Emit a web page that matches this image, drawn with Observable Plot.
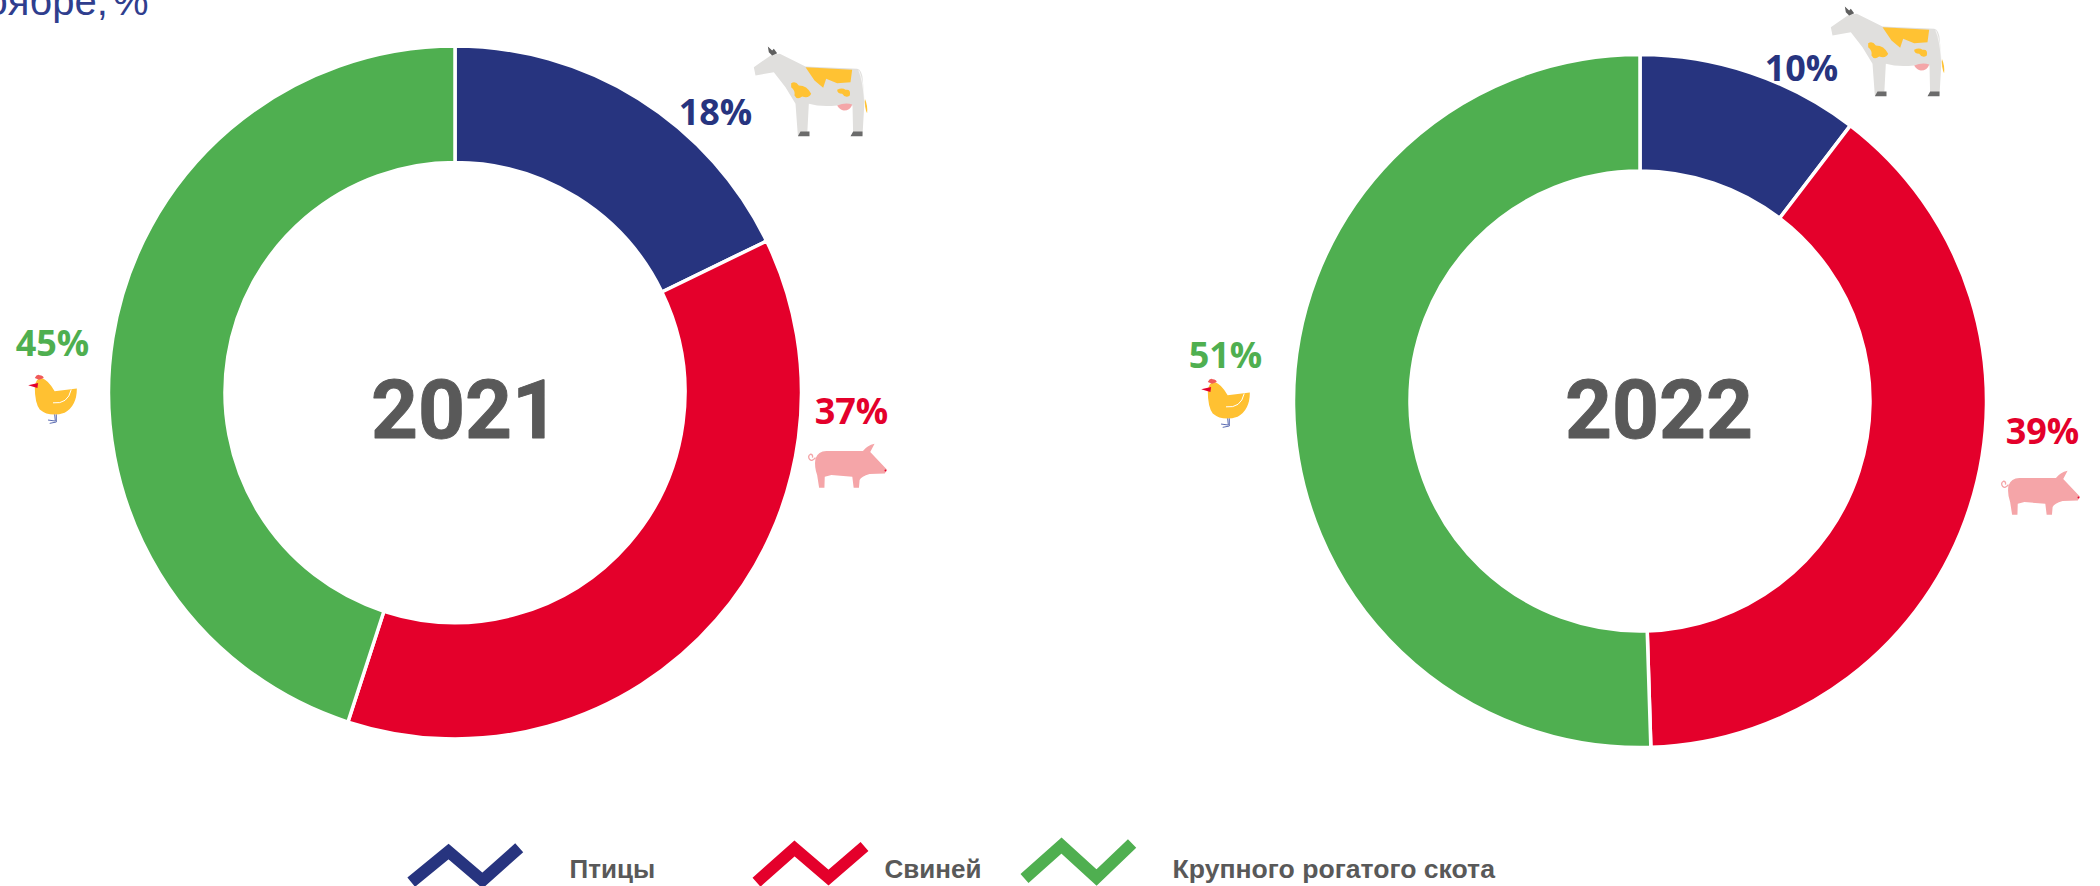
<!DOCTYPE html>
<html lang="ru">
<head>
<meta charset="utf-8">
<script src="https://cdn.jsdelivr.net/npm/d3@7"></script>
<script src="https://cdn.jsdelivr.net/npm/@observablehq/plot@0.6"></script>
<style>
html,body{margin:0;padding:0;background:#fff;overflow:hidden;width:2100px;height:886px}
svg{display:block}
.title-tail text{word-spacing:-6px}
</style>
</head>
<body>
<div id="chart"></div>
<script>
// ---- Data ----
const species = ["Птицы", "Свиней", "Крупного рогатого скота"];
const years = ["2021", "2022"];
const shares2021 = [17.8, 37.2, 45.0];
const shares2022 = [10.4, 39.2, 50.6];
const labels2021 = ["18%", "37%", "45%"];
const labels2022 = ["10%", "39%", "51%"];
const titleTail = "ноябре, %";

// ---- Styles and layout (pixels of the 2100×886 page) ----
const colors = ["#27347f", "#e4002b", "#4faf50"];
const grey = "#595959";
const donutCenters = [[455, 392.5], [1640, 401]];
const outerR = 346.5, innerR = 230;
const yearPos = [[464.5, 437], [1658.5, 437]];
const labelPos = [
  [[715, 124], [851, 423], [52, 355]],
  [[1801, 80], [2042, 443], [1225, 367]]
];
const iconPos = [
  [[810, 90.8], [847.5, 465.5], [52.5, 399]],
  [[1887, 50.8], [2040.5, 492.5], [1225.5, 403]]
];
const iconSize = [[120, 95], [83, 48], [53, 53]];
const swatches = [
  [[410.7, 881.7], [448, 851], [482, 880], [518.7, 847.3]],
  [[756, 881.7], [794, 848], [828, 877], [864, 846]],
  [[1024, 878], [1061, 845], [1096, 877], [1131.6, 843]]
];
const legendPos = [[569, 877], [884, 877], [1172, 877]];
const legendSize = [26, 26, 26.6];

// ---- Icons ----
const svgUri = (vb, body) => "data:image/svg+xml," + encodeURIComponent(
  `<svg xmlns="http://www.w3.org/2000/svg" viewBox="${vb}" preserveAspectRatio="none">${body}</svg>`);
const cow = svgUri("270 40 360 285", `
 <path fill="#e0dfdd" d="M280 110L335 72L358 70L435 108L590 115Q605 118 607 150L612 210L606 315L578 315L576 225L530 225Q480 230 445 220L440 315L412 315L405 220L375 170L340 125L285 135Z"/>
 <path fill="#5f5f5f" d="M322 48L335 60L340 55L350 68L335 75L325 65Z"/>
 <path fill="#ffc233" d="M435 110L575 118L570 155L530 158L497 145L488 172L462 150Z"/>
 <path fill="#ffc233" d="M392 158Q405 150 415 165Q440 165 452 190Q445 205 425 198Q410 210 402 195Q405 180 392 170Z"/>
 <path fill="#ffc233" d="M530 178Q545 170 555 178Q572 175 568 195Q555 205 545 190Q530 190 530 178Z"/>
 <path fill="#ffc233" d="M613 205Q622 225 620 248Q612 235 613 205Z"/>
 <path fill="#f4a6a8" d="M530 225Q555 215 575 222Q570 240 550 240Q538 238 530 225Z"/>
 <path fill="#6b6b6b" d="M412 317L420 303L447 303L447 317Z M570 317L578 303L606 303L606 317Z"/>
 <path fill="none" stroke="#fff" stroke-width="2" d="M595 120Q608 150 612 210"/>`);
const pig = svgUri("80 185 250 145", `
 <path fill="#f5a5a8" d="M107 235Q115 212 140 212L250 212Q262 195 285 190L272 215L322 268L316 280L270 282Q245 290 240 300L238 323L222 323L218 290L155 285L135 290L134 323L118 323L112 285Q103 260 107 235Z"/>
 <path fill="none" stroke="#f5a5a8" stroke-width="4" d="M107 232Q97 245 90 238Q82 228 92 222Q100 222 98 232"/>
 <circle cx="318" cy="271" r="3" fill="#e4002b"/>`);
const hen = svgUri("80 190 160 160", `
 <path fill="#ffc132" d="M105 232Q108 205 125 205Q145 210 165 245L232 237Q232 290 195 310Q150 325 120 300Q105 280 105 232Z"/>
 <path fill="#f05a5a" d="M105 205Q112 192 120 197Q130 197 132 205L118 210Z"/>
 <path fill="#e4002b" d="M85 227L115 220L113 235Z"/>
 <path fill="none" stroke="#fff" stroke-width="3" d="M160 280Q205 285 215 240"/>
 <path fill="none" stroke="#5b6bb0" stroke-width="3" d="M165 315L167 335L145 332M170 315L170 338L150 342"/>`);
const icons = [cow, pig, hen];

// ---- Tables for the marks ----
const sharesByYear = [shares2021, shares2022];
const labelsByYear = [labels2021, labels2022];
const arcRows = years.flatMap((year, y) => {
  const pie = d3.pie().sort(null)(sharesByYear[y]);
  return species.map((sp, i) => ({
    year, species: sp, share: sharesByYear[y][i],
    startAngle: pie[i].startAngle, endAngle: pie[i].endAngle,
    cx: donutCenters[y][0], cy: donutCenters[y][1]
  }));
});
const labelRows = years.flatMap((year, y) => species.map((sp, i) => ({
  species: sp, label: labelsByYear[y][i], x: labelPos[y][i][0], y: labelPos[y][i][1]
})));
const iconRows = years.flatMap((year, y) => species.map((sp, i) => ({
  src: icons[i], x: iconPos[y][i][0], y: iconPos[y][i][1], w: iconSize[i][0], h: iconSize[i][1]
})));
const yearRows = years.map((year, y) => ({year, x: yearPos[y][0], y: yearPos[y][1]}));
const swatchRows = species.flatMap((sp, i) => swatches[i].map(([x, y]) => ({species: sp, x, y})));
const legendRows = species.map((sp, i) => ({species: sp, x: legendPos[i][0], y: legendPos[i][1], size: legendSize[i]}));

// Donut mark: dot positions and fills through Plot's scales, drawn as arcs.
const donut = Plot.dot(arcRows, {
  x: "cx", y: "cy", fill: "species",
  render(index, scales, values, dims, context) {
    const g = d3.select(context.document.createElementNS("http://www.w3.org/2000/svg", "g"));
    const arc = d3.arc();
    const unit = scales.x(1) - scales.x(0);
    for (const i of index) {
      g.append("path")
        .attr("transform", `translate(${values.x[i]},${values.y[i]})`)
        .attr("d", arc({innerRadius: innerR * unit, outerRadius: outerR * unit,
                        startAngle: arcRows[i].startAngle, endAngle: arcRows[i].endAngle}))
        .attr("fill", values.fill[i])
        .attr("stroke", "#fff")
        .attr("stroke-width", 3.5)
        .attr("stroke-linejoin", "miter");
    }
    return g.node();
  }
});

const chart = Plot.plot({
  width: 2100, height: 886,
  margin: 0,
  style: {background: "#fff", overflow: "hidden"},
  x: {domain: [0, 2100], range: [0, 2100], axis: null},
  y: {domain: [0, 886], range: [0, 886], axis: null},
  color: {domain: species, range: colors, legend: false},
  marks: [
    donut,
    Plot.text([titleTail], {
      x: () => 148, y: () => 14.3, text: d => d, textAnchor: "end", lineAnchor: "bottom",
      className: "title-tail",
      fill: "#2f3e8e", fontSize: 40, fontFamily: "Liberation Sans, Arial, sans-serif"
    }),
    Plot.text(yearRows, {
      x: "x", y: "y", text: "year", textAnchor: "middle", lineAnchor: "bottom",
      fill: grey, stroke: grey, strokeWidth: 0.9, fontSize: 82, fontWeight: 700,
      fontFamily: "Roboto, Liberation Sans, sans-serif"
    }),
    Plot.text(labelRows, {
      x: "x", y: "y", text: "label", fill: "species", textAnchor: "middle", lineAnchor: "bottom",
      fontSize: 36, fontWeight: 700, fontFamily: "Open Sans, sans-serif"
    }),
    Plot.image(iconRows, {x: "x", y: "y", width: "w", height: "h", src: "src", preserveAspectRatio: "none"}),
    Plot.line(swatchRows, {
      x: "x", y: "y", z: "species", stroke: "species", strokeWidth: 12,
      curve: "linear", strokeLinejoin: "miter", strokeLinecap: "butt", strokeMiterlimit: 4
    }),
    Plot.text(legendRows, {
      x: "x", y: "y", text: "species", textAnchor: "start", lineAnchor: "bottom",
      fill: grey, fontSize: "size", fontWeight: 700, fontFamily: "Liberation Sans, Arial, sans-serif"
    })
  ]
});
document.getElementById("chart").append(chart);
</script>
</body>
</html>
